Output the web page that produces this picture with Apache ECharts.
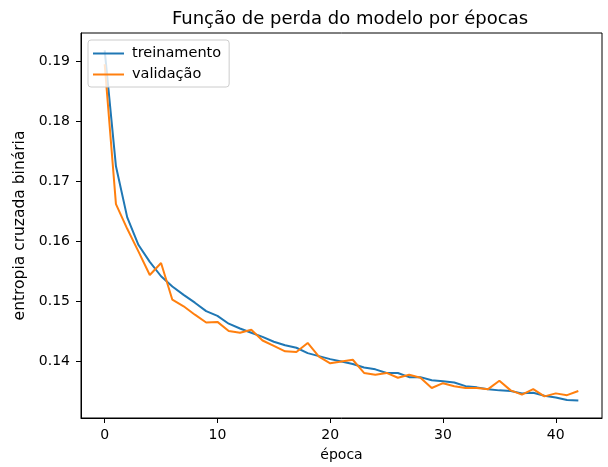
<!DOCTYPE html>
<html>
<head>
<meta charset="utf-8">
<script src="https://cdn.jsdelivr.net/npm/echarts@6/dist/echarts.min.js"></script>
<style>
  html, body { margin: 0; padding: 0; background: #fff; }
  #chart { width: 608px; height: 467px; }
</style>
</head>
<body>
<div id="chart"></div>
<script>
const epochs = Array.from({ length: 43 }, (_, i) => i);
const treinamento = [
  0.1918, 0.1725, 0.1640, 0.1594, 0.1566, 0.1542, 0.1525, 0.1511, 0.1498, 0.1484,
  0.1476, 0.1463, 0.1455, 0.1448, 0.1441, 0.1433, 0.1427, 0.1423, 0.1414, 0.1409,
  0.1404, 0.1400, 0.1396, 0.1390, 0.1387, 0.1381, 0.1381, 0.1374, 0.1374, 0.1369,
  0.1367, 0.1365, 0.1359, 0.1357, 0.1354, 0.1352, 0.1351, 0.1347, 0.1348, 0.1343,
  0.1340, 0.1336, 0.1335,
];
const validacao = [
  0.1895, 0.1662, 0.1621, 0.1583, 0.1544, 0.1564, 0.1503, 0.1492, 0.1478, 0.1465,
  0.1466, 0.1451, 0.1448, 0.1453, 0.1435, 0.1426, 0.1417, 0.1416, 0.1431, 0.1408,
  0.1397, 0.1400, 0.1403, 0.1381, 0.1378, 0.1381, 0.1373, 0.1378, 0.1373, 0.1356,
  0.1364, 0.1359, 0.1356, 0.1356, 0.1354, 0.1368, 0.1352, 0.1345, 0.1354, 0.1342,
  0.1347, 0.1344, 0.1351,
];
const xTicks = [0, 10, 20, 30, 40];
const yTicks = [0.14, 0.15, 0.16, 0.17, 0.18, 0.19];

const FONT = 'DejaVu Sans';
const chart = echarts.init(document.getElementById('chart'));

const pairs = (ys) => ys.map((y, i) => [epochs[i], y]);

chart.setOption({
  animation: false,
  textStyle: { fontFamily: FONT },
  title: {
    text: 'Função de perda do modelo por épocas',
    left: 345,
    top: 5,
    textAlign: 'center',
    textStyle: { fontFamily: FONT, fontSize: 18, fontWeight: 'normal', color: '#000' },
  },
  grid: {
    left: 81, right: 6, top: 33, bottom: 46,
    show: true, borderColor: '#000', borderWidth: 1, backgroundColor: 'transparent',
  },
  legend: {
    left: 88,
    top: 40,
    orient: 'vertical',
    itemWidth: 31,
    itemHeight: 2,
    itemGap: 6,
    icon: 'rect',
    padding: [6, 8, 5, 5],
    backgroundColor: 'rgba(255,255,255,0.8)',
    borderColor: '#cccccc',
    borderWidth: 1,
    borderRadius: 3,
    textStyle: { fontFamily: FONT, fontSize: 14.5, color: '#000', padding: [0, 0, 0, 3] },
    data: ['treinamento', 'validação'],
  },
  xAxis: {
    type: 'value',
    min: -2.1,
    max: 44.1,
    name: 'época',
    nameLocation: 'middle',
    nameGap: 30,
    nameTextStyle: { fontFamily: FONT, fontSize: 14, color: '#000' },
    axisLine: { show: true, onZero: false, lineStyle: { color: '#000', width: 1 } },
    axisTick: { show: true, length: 5, lineStyle: { color: '#000' }, customValues: xTicks },
    axisLabel: { fontFamily: FONT, fontSize: 14, color: '#000', margin: 10, customValues: xTicks },
    splitLine: { show: false },
  },
  yAxis: {
    type: 'value',
    min: 0.1306,
    max: 0.1947,
    name: 'entropia cruzada binária',
    nameLocation: 'middle',
    nameGap: 51,
    nameTextStyle: { fontFamily: FONT, fontSize: 15.5, color: '#000' },
    axisLine: { show: true, onZero: false, lineStyle: { color: '#000', width: 1 } },
    axisTick: { show: true, length: 5, lineStyle: { color: '#000' }, customValues: yTicks },
    axisLabel: {
      fontFamily: FONT, fontSize: 14, color: '#000', margin: 11,
      customValues: yTicks,
      formatter: (v) => v.toFixed(2),
    },
    splitLine: { show: false },
  },
  series: [
    {
      name: 'treinamento',
      type: 'line',
      data: pairs(treinamento),
      showSymbol: false,
      symbol: 'none',
      itemStyle: { color: '#1f77b4' },
      lineStyle: { color: '#1f77b4', width: 2 },
    },
    {
      name: 'validação',
      type: 'line',
      data: pairs(validacao),
      showSymbol: false,
      symbol: 'none',
      itemStyle: { color: '#ff7f0e' },
      lineStyle: { color: '#ff7f0e', width: 2 },
    },
  ],
});
</script>
</body>
</html>
